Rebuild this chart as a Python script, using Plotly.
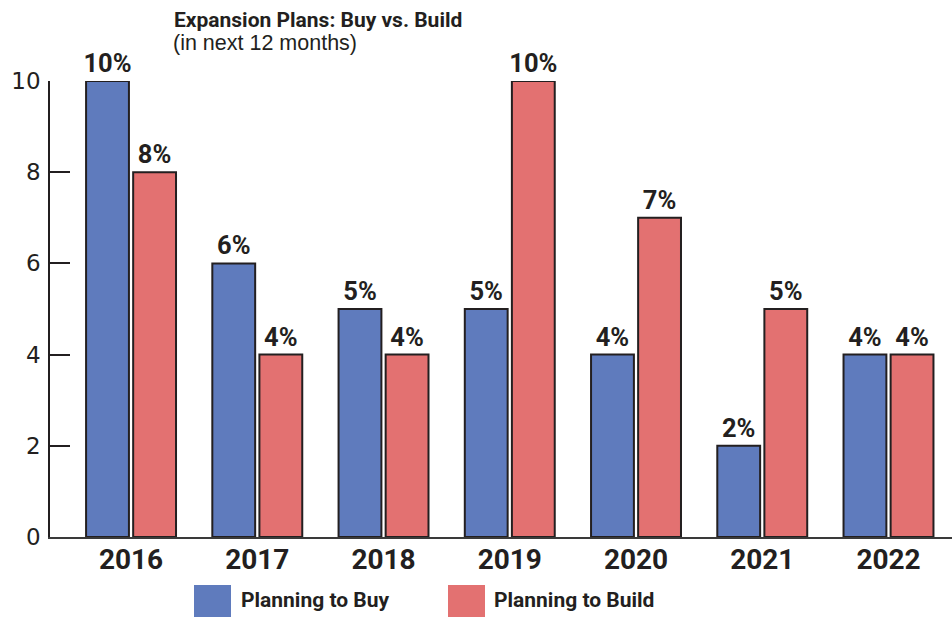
import plotly.graph_objects as go

years = ["2016", "2017", "2018", "2019", "2020", "2021", "2022"]
buy = [10, 6, 5, 5, 4, 2, 4]
build = [8, 4, 4, 10, 7, 5, 4]
series_names = ["Planning to Buy", "Planning to Build"]
y_ticks = [0, 2, 4, 6, 8, 10]
title_text = "Expansion Plans: Buy vs. Build"
subtitle_text = "(in next 12 months)"

BLUE = "#5f7bbd"
RED = "#e37171"
INK = "#231f20"
COND = "Roboto, Liberation Sans Narrow, Arial Narrow, sans-serif"

W, H = 952, 617
SX0, SX1, SY0, SY1 = 50, 952, 81, 537
ML, MT, MR, MB = SX0, SY0, W - SX1, H - SY1
PW, PH = W - ML - MR, H - MT - MB

def px_x(x):
    return (x - ML) / PW

def px_y(y):
    return (H - MB - y) / PH

fig = go.Figure()
for vals, name, col in [(buy, series_names[0], BLUE), (build, series_names[1], RED)]:
    fig.add_trace(go.Bar(
        x=list(range(len(years))), y=vals, name=name,
        marker=dict(color=col, line=dict(color=INK, width=2)),
        text=[f"{v}%" for v in vals], textposition="outside",
        constraintext="none",
        textfont=dict(family=COND, size=25.5, color=INK, weight="bold"),
        cliponaxis=False, showlegend=False, hoverinfo="skip",
    ))

fig.update_layout(
    width=W, height=H,
    margin=dict(l=ML, r=MR, t=MT, b=MB),
    paper_bgcolor="white", plot_bgcolor="white",
    barmode="group", bargap=0.254, bargroupgap=0.09,
    xaxis=dict(
        range=[-0.642, 6.503], tickmode="array",
        tickvals=list(range(len(years))), ticktext=years,
        showgrid=False, zeroline=False,
        showline=True, linecolor="#3a3a3a", linewidth=2,
        ticks="", ticklabelstandoff=-4,
        tickfont=dict(family=COND, size=28, color=INK, weight="bold"),
    ),
    yaxis=dict(
        range=[0, 10], tickmode="array", tickvals=y_ticks,
        ticktext=[str(t) for t in y_ticks],
        showgrid=False, zeroline=False,
        showline=True, linecolor=INK, linewidth=1.5,
        ticks="inside", ticklen=20, tickwidth=1.5, tickcolor=INK,
        ticklabelstandoff=3,
        tickfont=dict(family="DejaVu Sans, sans-serif", size=23, color=INK),
    ),
    font=dict(family=COND, color=INK),
)

annotations = [
    dict(text=f"<b>{title_text}</b>", x=px_x(172), y=px_y(20), xref="paper", yref="paper",
         xanchor="left", yanchor="middle", showarrow=False,
         font=dict(family=COND, size=21, color=INK)),
    dict(text=subtitle_text, x=px_x(171), y=px_y(43), xref="paper", yref="paper",
         xanchor="left", yanchor="middle", showarrow=False,
         font=dict(family="Liberation Sans, Arial, sans-serif", size=21.5, color=INK)),
]
shapes = []
legend_pos = [(194, 231, 239), (448, 485, 492)]
for (x0, x1, tx), name, col in zip(legend_pos, series_names, [BLUE, RED]):
    shapes.append(dict(type="rect", xref="paper", yref="paper",
                       x0=px_x(x0), x1=px_x(x1), y0=px_y(585), y1=px_y(630),
                       fillcolor=col, line=dict(width=0)))
    annotations.append(dict(text=f"<b>{name}</b>", x=px_x(tx), y=px_y(600),
                            xref="paper", yref="paper", xanchor="left", yanchor="middle",
                            showarrow=False,
                            font=dict(family=COND, size=21, color=INK)))
fig.update_layout(annotations=annotations, shapes=shapes)

fig.write_html("out.html", config={"displayModeBar": False},
               post_script="document.body.style.margin='0';document.body.style.overflow='hidden';")
